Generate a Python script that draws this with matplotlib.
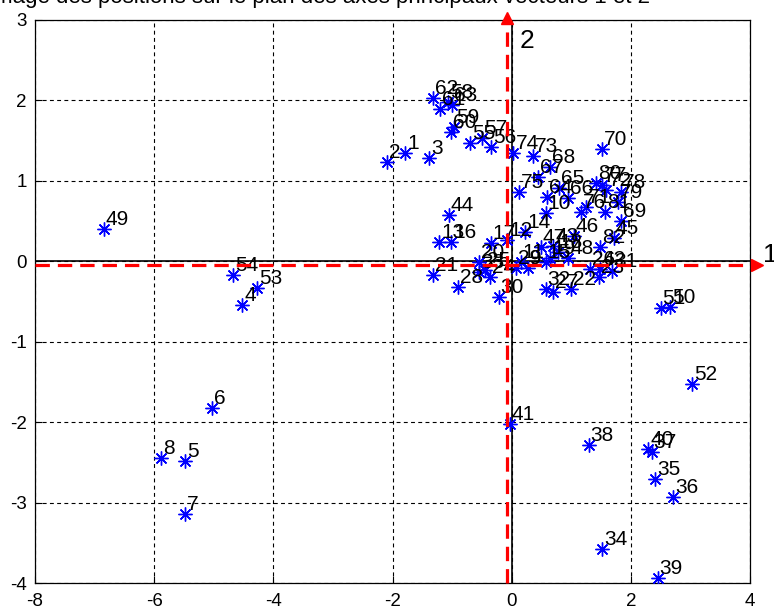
import matplotlib
matplotlib.use("Agg")
import matplotlib.pyplot as plt

plt.rcParams['font.family'] = ['Liberation Sans', 'DejaVu Sans']
plt.rcParams['axes.unicode_minus'] = False

# observation labels and their coordinates on principal axes 1 and 2
labels = list(range(1, 83))
axe1 = [-1.79, -2.09, -1.39, -4.52, -5.48, -5.03, -5.49, -5.88, 0.27, 0.57,
        0.15, -0.07, -1.22, 0.23, 0.57, -1.02, -0.35, 0.77, 0.65, -0.55,
        -1.32, 0.99, 1.46, -0.37, -0.44, 1.32, 0.70, -0.90, 0.07, -0.22,
        1.69, 0.57, -0.55, 1.52, 2.41, 2.71, 2.35, 1.29, 2.45, 2.29,
        -0.03, 1.49, 0.70, -1.06, 1.71, 1.04, 0.49, 0.95, -6.85, 2.66,
        2.50, 3.03, -4.27, -4.67, -0.70, -0.35, -0.49, -1.07, -0.97, -1.02,
        -1.21, -1.32, -1.00, 0.60, 0.79, 0.95, 0.45, 0.65, 1.84, 1.52,
        1.24, 1.59, 0.35, 0.03, 0.12, 1.16, 1.52, 1.83, 1.79, 1.41,
        1.57, 1.49]
axe2 = [1.35, 1.24, 1.29, -0.54, -2.48, -1.83, -3.14, -2.45, -0.08, 0.60,
        -0.01, 0.27, 0.24, 0.37, -0.01, 0.24, 0.23, 0.12, 0.04, -0.01,
        -0.17, -0.35, -0.19, -0.19, -0.11, -0.09, -0.38, -0.32, -0.08, -0.44,
        -0.12, -0.35, -0.13, -3.58, -2.71, -2.93, -2.37, -2.28, -3.94, -2.34,
        -2.02, -0.09, 0.19, 0.58, 0.29, 0.32, 0.18, 0.04, 0.40, -0.57,
        -0.58, -1.53, -0.33, -0.17, 1.47, 1.42, 1.53, 1.98, 1.67, 1.61,
        1.89, 2.03, 1.94, 0.80, 0.91, 0.79, 1.05, 1.17, 0.50, 1.40,
        0.68, 0.89, 1.31, 1.35, 0.86, 0.61, 0.95, 0.86, 0.74, 0.97,
        0.61, 0.18]

# centre of gravity (red dashed axes)
centre = (-0.08, -0.04)
xticks = [-8, -6, -4, -2, 0, 2, 4]
yticks = [-4, -3, -2, -1, 0, 1, 2, 3]

fig = plt.figure(figsize=(7.74, 6.11), dpi=100)
ax = fig.add_axes([35 / 774, 1 - 583 / 611, 715 / 774, 563 / 611])

ax.set_xlim(-8, 4)
ax.set_ylim(-4, 3)
ax.set_xticks(xticks)
ax.set_yticks(yticks)
ax.tick_params(direction='in', length=5, labelsize=13.5, width=0.8)
ax.tick_params(axis='x', pad=7)
ax.tick_params(axis='y', pad=6)
ax.grid(True, color='black', linestyle=(0, (3.5, 3)), linewidth=0.8)
for s in ax.spines.values():
    s.set_linewidth(0.9)

ax.axhline(0, color='black', lw=1.2, zorder=1)
ax.axvline(0, color='black', lw=1.2, zorder=1)

ax.plot(axe1, axe2, linestyle='none', marker=(8, 2, 0), markersize=10,
        markeredgewidth=1.0, color='blue', zorder=3)
for lab, x, y in zip(labels, axe1, axe2):
    ax.annotate(str(lab), (x, y), xytext=(2, 4), textcoords='offset pixels',
                ha='left', va='baseline', fontsize=15, color='black', zorder=4)

# red dashed axes with arrows
ax.plot([centre[0], centre[0]], [-4, 2.97], color='red', lw=2.3,
        dashes=(4.5, 2.5), clip_on=False, zorder=5)
ax.plot([-8, 4.07], [centre[1], centre[1]], color='red', lw=2.3,
        dashes=(4.5, 2.5), clip_on=False, zorder=5)
ax.plot(centre[0], 3.02, marker='^', markersize=9, color='red', clip_on=False, zorder=6)
ax.plot(4.11, centre[1], marker='>', markersize=9, color='red', clip_on=False, zorder=6)
ax.text(0.13, 2.65, '2', fontsize=19, ha='left', va='baseline')
ax.text(4.22, -0.01, '1', fontsize=19, ha='left', va='baseline', clip_on=False)

fig.text(-12 / 774, 1 - 3 / 611, 'Image des positions sur le plan des axes principaux vecteurs 1 et 2',
         fontsize=16, ha='left', va='baseline')

fig.savefig('out.png', dpi=100)
